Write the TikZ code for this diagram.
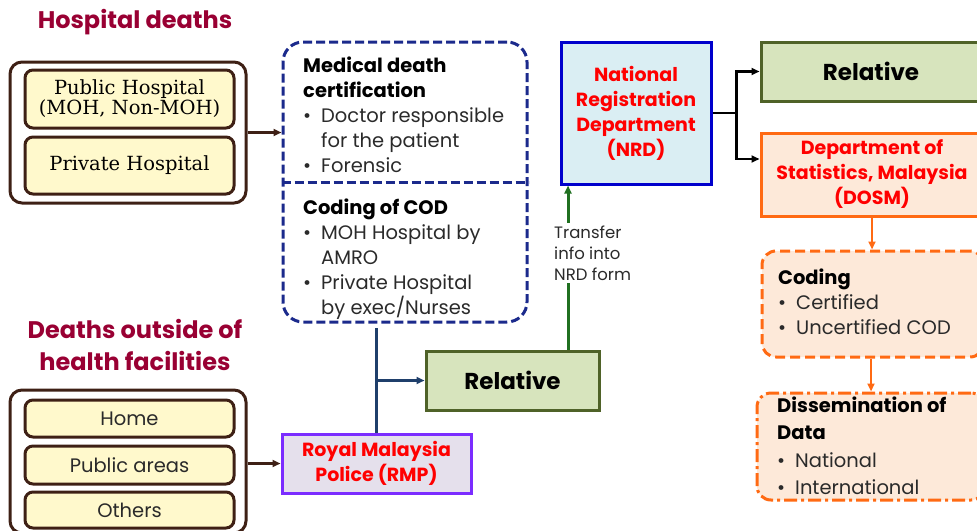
\documentclass[tikz,border=0pt]{standalone}
\usepackage{fontspec}
\setmainfont{Poppins}
\newfontfamily\serifface{DejaVu Serif}
\usetikzlibrary{arrows.meta}

\definecolor{titlered}{HTML}{990033}
\definecolor{brownline}{HTML}{3E2015}
\definecolor{paleyellow}{HTML}{FFF9CC}
\definecolor{navydash}{HTML}{1B2A8C}
\definecolor{nrdfill}{HTML}{DAEEF3}
\definecolor{nrdline}{HTML}{0000CC}
\definecolor{labelred}{HTML}{FF0000}
\definecolor{relfill}{HTML}{D7E4BD}
\definecolor{relline}{HTML}{4F6228}
\definecolor{peach}{HTML}{FDE9D9}
\definecolor{orangeline}{HTML}{FF6A13}
\definecolor{rmpfill}{HTML}{E5E0EC}
\definecolor{rmpline}{HTML}{7B2CFF}
\definecolor{navyline}{HTML}{1F3F6B}
\definecolor{darkgreen}{HTML}{207020}
\definecolor{bodytext}{HTML}{2A2A2A}

\newcommand\bul{\makebox[18pt][l]{\textbullet}}
\newcommand\hang{\hspace*{18pt}}

\tikzset{
  title/.style={font=\bfseries\fontsize{24}{32}\selectfont, text=titlered, align=center, inner sep=0pt},
  group/.style={draw=brownline, line width=3pt, rounded corners=12pt},
  item/.style={draw=brownline, line width=3pt, fill=paleyellow, rounded corners=8pt, minimum width=209pt},
  serifitem/.style={item, font=\serifface\fontsize{19.5}{18}\selectfont, align=center},
  sansitem/.style={item, font=\fontsize{19.5}{22}\selectfont, text=bodytext},
  navybox/.style={draw=navydash, line width=3pt, dash pattern=on 9pt off 4pt, rounded corners=20pt},
  listtext/.style={inner sep=0pt, anchor=north west, align=left, text=bodytext, font=\fontsize{19.5}{25}\selectfont},
  agency/.style={line width=3pt, text=labelred, font=\bfseries\fontsize{19}{25}\selectfont, align=center},
  relbox/.style={draw=relline, fill=relfill, line width=3pt, font=\bfseries\fontsize{23}{28}\selectfont},
  orangebox/.style={draw=orangeline, fill=peach, line width=3pt, rounded corners=14pt},
  tip/.style={-{Triangle[length=8pt,width=7pt]}},
  brownarrow/.style={tip, draw=brownline, line width=2.6pt},
  blackarrow/.style={tip, draw=black, line width=2.6pt},
  orangearrow/.style={tip, draw=orangeline, line width=2.6pt},
  navyarrow/.style={draw=navyline, line width=3pt},
  greenarrow/.style={tip, draw=darkgreen, line width=3pt},
}

\newcommand\hd[1]{{\bfseries\color{black}\fontsize{19.5}{25}\selectfont #1}}

\begin{document}
\begin{tikzpicture}[x=1pt, y=-1pt]
\useasboundingbox (0,0) rectangle (977,530);

% ---- hospital deaths group
\node[title] (hosptitle) at (135,22) {Hospital deaths};
\node[group, minimum width=236pt, minimum height=141pt] (hosp) at (128,132.5) {};
\node[serifitem, minimum height=58pt] (public) at (129.5,99) {Public Hospital\\(MOH, Non-MOH)};
\node[serifitem, minimum height=57pt] (private) at (129.5,165.5) {Private Hospital};

% ---- certification and coding
\node[navybox, minimum width=244pt, minimum height=280pt] (med) at (405,182) {};
\draw[navybox] (med.west) -- (med.east);
\node[listtext] (certtext) at (303,57) {\hd{Medical death}\\
  \hd{certification}\\
  \bul Doctor responsible\\
  \hang for the patient\\
  \bul Forensic};
\node[listtext] (codtext) at (303,199) {\hd{Coding of COD}\\
  \bul MOH Hospital by\\
  \hang AMRO\\
  \bul Private Hospital\\
  \hang by exec/Nurses};

\draw[brownarrow] (hosp.east) -- (hosp.east -| med.west);

% ---- national registration
\node[agency, draw=nrdline, fill=nrdfill, minimum width=150pt, minimum height=142pt] (nrd) at (636,113) {National\\Registration\\Department\\(NRD)};

\node[relbox, minimum width=220pt, minimum height=59pt] (reltop) at (871,71.5) {Relative};
\node[agency, draw=orangeline, fill=peach, minimum width=222pt, minimum height=83pt] (dosm) at (872,174.5) {Department of\\Statistics, Malaysia\\(DOSM)};

\draw[draw=black, line width=2.6pt] (nrd.east) -- ++(24,0) coordinate (fork);
\draw[blackarrow] (fork) |- (reltop.west);
\draw[blackarrow] (fork) |- (dosm.west |- 0,159);

% ---- statistics processing
\node[orangebox, dash pattern=on 10pt off 5pt, minimum width=222pt, minimum height=106pt] (coding) at (873,304) {};
\node[listtext] (codingtext) at (778,269) {\hd{Coding}\\
  \bul Certified\\
  \bul Uncertified COD};
\node[orangebox, dash pattern=on 13pt off 4pt on 3pt off 4pt, minimum width=228pt, minimum height=107pt] (dissem) at (871,446.5) {};
\node[listtext, font=\fontsize{19.5}{27}\selectfont] (dissemtext) at (777,397) {\hd{Dissemination of}\\
  \hd{Data}\\[1pt]
  \bul National\\
  \bul International};

\draw[orangearrow] (dosm.south) -- (dosm.south |- coding.north);
\draw[orangearrow] (coding.south -| dissem.north) -- (dissem.north);

% ---- deaths outside health facilities
\node[title] (outtitle) at (135,345) {Deaths outside of\\health facilities};
\node[group, minimum width=236pt, minimum height=143pt] (outside) at (128,461.5) {};
\node[sansitem, minimum height=37pt] (home) at (129.5,418.5) {Home};
\node[sansitem, minimum height=38pt] (areas) at (129.5,465) {Public areas};
\node[sansitem, minimum height=36pt] (others) at (129.5,510) {Others};

\node[agency, draw=rmpline, fill=rmpfill, minimum width=189pt, minimum height=59pt] (rmp) at (376.5,463.5) {Royal Malaysia\\Police (RMP)};
\draw[brownarrow] (outside.east |- rmp.west) -- (rmp.west);

\node[relbox, minimum width=173pt, minimum height=59pt] (relmid) at (512.5,380.5) {Relative};

\draw[navyarrow] (rmp.north) -- ([yshift=-4pt]rmp.north |- med.south);
\draw[navyarrow, tip] (rmp.north |- relmid.west) -- (relmid.west);

% ---- transfer to the registration department
\coordinate (gx) at (568,0);
\draw[greenarrow] (relmid.north -| gx) -- (nrd.south -| gx);
\node[inner sep=3pt, fill=white, anchor=west, align=left, text=bodytext, font=\fontsize{16.5}{21}\selectfont] (xfer) at (551,253) {Transfer\\info into\\NRD form};
\end{tikzpicture}
\end{document}
